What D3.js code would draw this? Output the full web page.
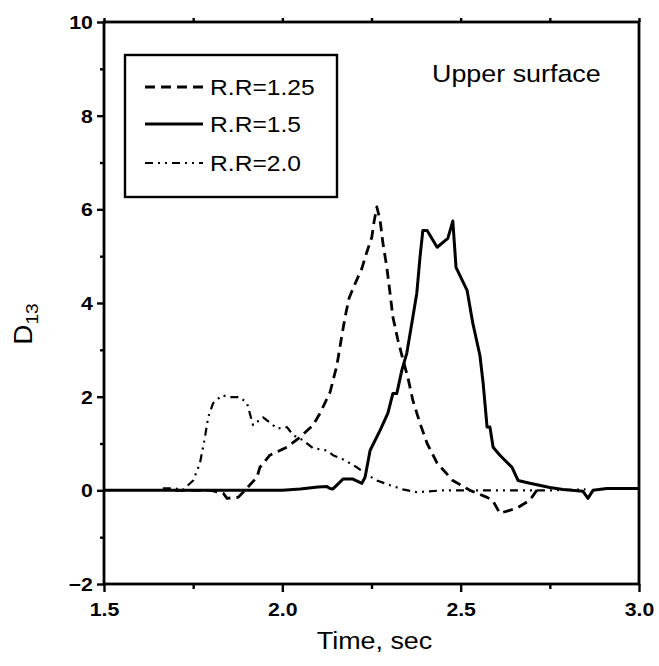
<!DOCTYPE html>
<html>
<head>
<meta charset="utf-8">
<script src="https://cdn.jsdelivr.net/npm/d3@7/dist/d3.min.js"></script>
<style>
  html, body { margin: 0; padding: 0; background: #fff; }
  svg { display: block; font-family: "Liberation Sans", Arial, sans-serif; }
</style>
</head>
<body>
<svg id="chart" width="659" height="666"></svg>
<script>
// D13 upper surface response, three rotation ratios
const tRR125 = [1.70, 1.80, 1.834, 1.845, 1.876, 1.890, 1.929, 1.937, 1.965, 2.013, 2.049, 2.086, 2.106, 2.134, 2.153, 2.167, 2.176, 2.187, 2.201, 2.223, 2.237, 2.251, 2.257, 2.265, 2.274, 2.282, 2.293, 2.302, 2.310, 2.324, 2.338, 2.352, 2.366, 2.386, 2.406, 2.434, 2.478, 2.526, 2.574, 2.590, 2.610, 2.658, 2.694, 2.717];
const yRR125 = [0.0, 0.0, -0.06, -0.17, -0.15, -0.04, 0.28, 0.49, 0.75, 0.92, 1.13, 1.39, 1.65, 2.10, 2.67, 3.31, 3.70, 4.10, 4.36, 4.74, 5.09, 5.41, 5.73, 6.05, 5.77, 5.28, 4.76, 4.21, 3.70, 3.21, 2.80, 2.41, 1.92, 1.43, 1.00, 0.58, 0.21, 0.0, -0.15, -0.22, -0.49, -0.38, -0.21, 0.04];

const tRR15 = [1.50, 1.70, 1.90, 2.00, 2.05, 2.10, 2.125, 2.134, 2.142, 2.170, 2.198, 2.223, 2.232, 2.246, 2.274, 2.296, 2.310, 2.321, 2.335, 2.349, 2.366, 2.377, 2.386, 2.394, 2.406, 2.434, 2.464, 2.478, 2.487, 2.518, 2.534, 2.554, 2.563, 2.574, 2.582, 2.591, 2.610, 2.644, 2.661, 2.694, 2.750, 2.787, 2.843, 2.857, 2.871, 2.910, 3.00];
const yRR15 = [0.0, 0.0, 0.0, 0.0, 0.03, 0.07, 0.08, 0.04, 0.03, 0.24, 0.24, 0.15, 0.28, 0.85, 1.28, 1.65, 2.07, 2.07, 2.56, 2.93, 3.70, 4.21, 4.98, 5.55, 5.55, 5.19, 5.38, 5.75, 4.76, 4.27, 3.57, 2.88, 2.29, 1.35, 1.35, 0.92, 0.75, 0.49, 0.21, 0.15, 0.06, 0.02, -0.02, -0.17, 0.0, 0.04, 0.04];

const tRR20 = [1.665, 1.70, 1.72, 1.75, 1.769, 1.783, 1.792, 1.806, 1.831, 1.853, 1.881, 1.901, 1.918, 1.946, 1.965, 1.985, 2.013, 2.030, 2.058, 2.086, 2.125, 2.142, 2.176, 2.209, 2.237, 2.265, 2.302, 2.338, 2.377, 2.45, 2.55, 2.65, 2.75, 2.85];
const yRR20 = [0.04, 0.04, 0.0, 0.21, 0.58, 1.13, 1.56, 1.86, 2.03, 1.99, 1.99, 1.86, 1.39, 1.56, 1.45, 1.32, 1.35, 1.18, 1.07, 0.90, 0.85, 0.75, 0.64, 0.49, 0.34, 0.21, 0.11, 0.02, -0.04, 0.0, 0.0, 0.0, 0.0, 0.02];

const seriesNames = ["R.R=1.25", "R.R=1.5", "R.R=2.0"];
const xTicks = [1.5, 2.0, 2.5, 3.0];
const xMinorTicks = [1.75, 2.25, 2.75];
const yTicks = [-2, 0, 2, 4, 6, 8, 10];
const yMinorTicks = [-1, 1, 3, 5, 7, 9];

const svg = d3.select("#chart");
const plot = { left: 104, right: 639, top: 22, bottom: 584 };

const x = d3.scaleLinear().domain([1.5, 3.0]).range([plot.left, plot.right]);
const y = d3.scaleLinear().domain([-2, 10]).range([plot.bottom, plot.top]);

const dashes = ["10,6", null, "8,5,2,5,2,5"];
const widths = [2.8, 3.0, 2.2];

const series = [
  tRR125.map((t, i) => [t, yRR125[i]]),
  tRR15.map((t, i) => [t, yRR15[i]]),
  tRR20.map((t, i) => [t, yRR20[i]])
];

const line = d3.line().x(d => x(d[0])).y(d => y(d[1]));

// curves
series.forEach((s, i) => {
  svg.append("path")
    .datum(s)
    .attr("d", line)
    .attr("fill", "none")
    .attr("stroke", "#000")
    .attr("stroke-width", widths[i])
    .attr("stroke-linejoin", "round")
    .attr("stroke-dasharray", dashes[i]);
});

// frame
svg.append("rect")
  .attr("x", plot.left).attr("y", plot.top)
  .attr("width", plot.right - plot.left).attr("height", plot.bottom - plot.top)
  .attr("fill", "none").attr("stroke", "#000").attr("stroke-width", 2.8);

// axes
const stretch = "scale(1.12,1)";
const xAxis = svg.append("g")
  .attr("transform", `translate(0,${plot.bottom})`)
  .call(d3.axisBottom(x).tickValues(xTicks).tickFormat(d3.format(".1f")).tickSize(8).tickPadding(6));
const xMinor = svg.append("g")
  .attr("transform", `translate(0,${plot.bottom})`)
  .call(d3.axisBottom(x).tickValues(xMinorTicks).tickFormat("").tickSize(5));
const xTop = svg.append("g")
  .attr("transform", `translate(0,${plot.top})`)
  .call(d3.axisTop(x).tickValues(xTicks.concat(xMinorTicks)).tickFormat("").tickSize(4));

const yAxis = svg.append("g")
  .attr("transform", `translate(${plot.left},0)`)
  .call(d3.axisLeft(y).tickValues(yTicks).tickFormat(d3.format("d")).tickSize(7).tickPadding(5));
const yMinor = svg.append("g")
  .attr("transform", `translate(${plot.left},0)`)
  .call(d3.axisLeft(y).tickValues(yMinorTicks).tickFormat("").tickSize(4));

[xAxis, xMinor, xTop, yAxis, yMinor].forEach(g => {
  g.select(".domain").remove();
  g.selectAll("line").attr("stroke", "#000").attr("stroke-width", 2.4);
});
[xAxis, yAxis].forEach(g => {
  g.selectAll("text")
    .attr("fill", "#000")
    .style("font-size", "19px")
    .style("font-weight", "bold")
    .attr("transform", stretch);
});
xAxis.selectAll("text").attr("dy", "0.95em");
yAxis.selectAll("text").attr("x", -10).attr("dy", "0.35em");

// axis titles
svg.append("text")
  .attr("transform", `translate(${(plot.left + plot.right) / 2 + 3},649) ${stretch}`)
  .attr("text-anchor", "middle")
  .style("font-size", "24px")
  .text("Time, sec");

const yTitle = svg.append("text")
  .attr("transform", `translate(32,324) rotate(-90) ${stretch}`)
  .attr("text-anchor", "middle")
  .style("font-size", "25px");
yTitle.append("tspan").text("D");
yTitle.append("tspan").attr("dy", 6).style("font-size", "17px").text("13");

// annotation
svg.append("text")
  .attr("transform", `translate(432,82) ${stretch}`)
  .style("font-size", "24px")
  .text("Upper surface");

// legend
const legend = svg.append("g");
legend.append("rect")
  .attr("x", 125).attr("y", 55).attr("width", 212).attr("height", 142)
  .attr("fill", "#fff").attr("stroke", "#000").attr("stroke-width", 2.4);
const legendY = [87, 124, 163];
seriesNames.forEach((name, i) => {
  legend.append("line")
    .attr("x1", 145).attr("x2", 203)
    .attr("y1", legendY[i]).attr("y2", legendY[i])
    .attr("stroke", "#000").attr("stroke-width", widths[i])
    .attr("stroke-dasharray", dashes[i]);
  legend.append("text")
    .attr("transform", `translate(210,${legendY[i] + 8}) ${stretch}`)
    .style("font-size", "22px")
    .text(name);
});
</script>
</body>
</html>
